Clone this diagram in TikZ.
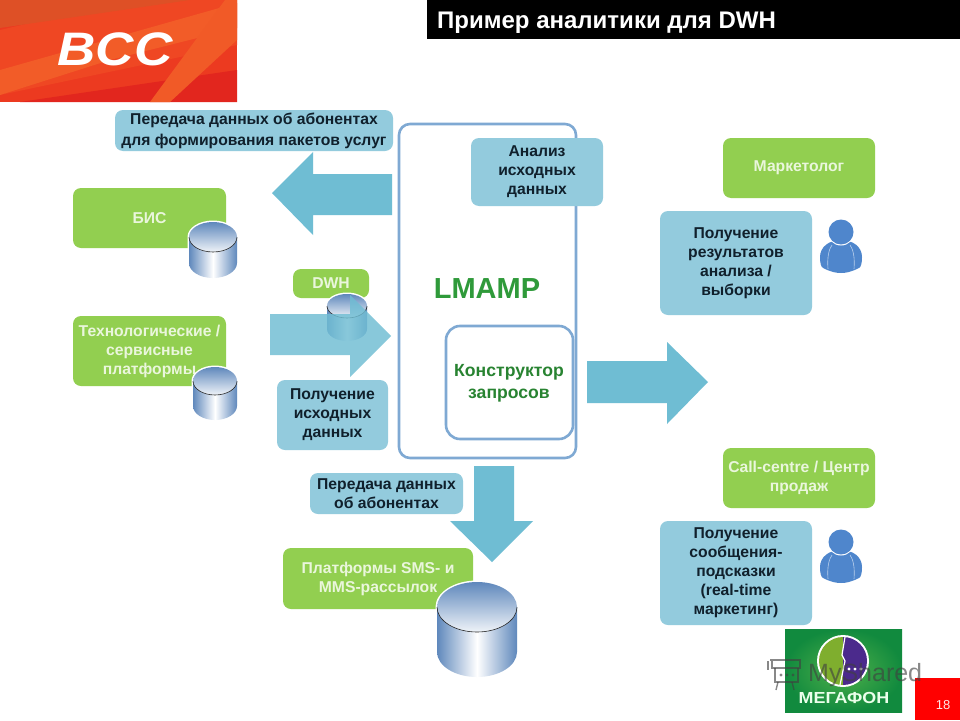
\documentclass[tikz,border=0pt]{standalone}
\usepackage{fontspec}
\setmainfont{Liberation Sans}
\definecolor{gbox}{HTML}{92CF50}
\definecolor{bbox}{HTML}{93CBDD}
\definecolor{arrowb}{HTML}{6FBDD3}
\definecolor{frameb}{HTML}{7FA9D3}
\definecolor{gtext}{HTML}{EAF6DC}
\definecolor{dtext}{HTML}{10202C}
\definecolor{cyld}{HTML}{5F88BC}
\definecolor{lmgreen}{HTML}{2F9A3A}
\definecolor{logoa}{HTML}{EC3A20}
\definecolor{logob}{HTML}{EF4723}
\definecolor{logoc}{HTML}{F25C28}
\definecolor{logod}{HTML}{DE5026}
\definecolor{logoe}{HTML}{E2261E}
\definecolor{logof}{HTML}{F15A27}
\definecolor{personb}{HTML}{4F86CC}
\definecolor{mfa}{HTML}{4FB04A}
\definecolor{mfb}{HTML}{118A3E}
\definecolor{mfc}{HTML}{7FAE2E}
\definecolor{mfd}{HTML}{4B2A8C}
\tikzset{
  x=1pt,y=-1pt,
  greenbox/.style={fill=gbox,rounded corners=8pt,inner sep=0pt,align=center,text=gtext,font=\fontsize{15.7}{19}\selectfont\bfseries},
  bluebox/.style={fill=bbox,rounded corners=8pt,inner sep=0pt,align=center,text=dtext,font=\fontsize{15.7}{19}\selectfont\bfseries},
  blockarrow/.style={fill=arrowb},
  frameline/.style={draw=frameb,line width=2.6pt,fill=white},
  cylside/.style={left color=cyld,right color=cyld,middle color=white},
  cyltop/.style={top color=cyld,bottom color=white!90!cyld},
}
% name cx top bottom rx ry
\newcommand{\cylinder}[6]{%
  \fill[white] (#2-#5-1.5,#3+#6) arc[start angle=180,end angle=360,x radius=#5+1.5,y radius=#6+1.5] -- (#2+#5+1.5,#4-#6) arc[start angle=0,end angle=180,x radius=#5+1.5,y radius=#6+1.5] -- cycle;
  \path[cylside] (#2-#5,#3+#6) -- (#2-#5,#4-#6) arc[start angle=180,end angle=0,x radius=#5,y radius=#6] -- (#2+#5,#3+#6) -- cycle;
  \path[cyltop] (#2,#3+#6) ellipse[x radius=#5,y radius=#6];
  \draw[black!85,line width=0.6pt] (#2-#5,#3+#6) arc[start angle=180,end angle=0,x radius=#5,y radius=#6];
  \coordinate (#1) at (#2,#3);
}
\newcommand{\boxnode}[7]{%
  \node[#6,minimum width=#4-#2,minimum height=#5-#3] (#1) at ({(#2+#4)/2},{(#3+#5)/2}) {#7};
}
\newcommand{\person}[3]{%
  \fill[#1] (#2-21,#3+12) .. controls (#2-21,#3+2) and (#2-12,#3-5) .. (#2,#3-5) .. controls (#2+12,#3-5) and (#2+21,#3+2) .. (#2+21,#3+12) .. controls (#2+21,#3+18) and (#2+20,#3+22) .. (#2+18,#3+23) .. controls (#2+10,#3+27) and (#2+5,#3+28) .. (#2,#3+28) .. controls (#2-5,#3+28) and (#2-10,#3+27) .. (#2-18,#3+23) .. controls (#2-20,#3+22) and (#2-21,#3+18) .. (#2-21,#3+12) -- cycle;
  \draw[white!60!#1,line width=.6pt] (#2-13,#3+24) .. controls (#2-14,#3+12) and (#2-12,#3+4) .. (#2-9,#3)
    (#2+13,#3+24) .. controls (#2+14,#3+12) and (#2+12,#3+4) .. (#2+9,#3);
  \fill[white] (#2,#3-13) circle[radius=13.5];
  \fill[#1] (#2,#3-13) circle[radius=12.5];
}
\begin{document}
\begin{tikzpicture}
\useasboundingbox (0,0) rectangle (960,720);
\fill[white] (0,0) rectangle (960,720);

% BCC logo
\fill[logoa] (0,0) rectangle (237,102);
\fill[logob] (0,30) -- (130,0) -- (237,0) -- (237,45) -- (0,95) -- cycle;
\fill[logoc] (0,70) -- (237,3) -- (237,28) -- (110,60) -- (0,95) -- cycle;
\fill[logod] (0,0) -- (190,0) -- (0,28) -- cycle;
\fill[logoe] (20,102) -- (237,70) -- (237,102) -- cycle;
\fill[logof] (237,0) -- (225,0) -- (150,102) -- (170,102) -- (237,40) -- cycle;
\node[inner sep=0pt,text=white,font=\fontsize{47}{47}\selectfont\bfseries\itshape,xscale=1.13] (bcc) at (115,49) {BCC};

% title
\node[fill=black,minimum width=533,minimum height=39,inner sep=0pt] (titlebar) at (693.5,19.5) {};
\node[anchor=west,inner sep=0pt,text=white,font=\fontsize{24}{26}\selectfont\bfseries] (title) at (437,23) {Пример аналитики для DWH};

% main frame
\draw[frameline,rounded corners=11pt] (399,124) rectangle (576,458);
\node[text=lmgreen,font=\fontsize{29}{32}\selectfont\bfseries,inner sep=0pt] (lmamp) at (487,289) {LMAMP};
\draw[frameline,rounded corners=14pt] (446,326) rectangle (573,439);
\node[text=lmgreen!85!black,align=center,inner sep=0pt,font=\fontsize{17.6}{21}\selectfont\bfseries] (konstr) at (509,383) {Конструктор\\[1pt]запросов};

% left-top
\boxnode{peredacha}{115}{110}{393}{151}{bluebox}{Передача данных об абонентах\\[2pt]для формирования пакетов услуг}
\fill[blockarrow] (392,174) -- (313,174) -- (313,152) -- (272,193) -- (313,235) -- (313,215) -- (392,215) -- cycle;
\boxnode{analiz}{471}{138}{603}{206}{bluebox}{Анализ\\исходных\\данных}

% BIS
\boxnode{bis}{73}{188}{226}{248}{greenbox}{БИС}
\cylinder{bisdb}{213}{222}{278}{24}{15}

% DWH
\boxnode{dwh}{293}{269}{369}{298}{greenbox}{DWH}
\cylinder{dwhdb}{347}{294}{341}{20}{12}
\fill[blockarrow,opacity=.82] (270,314) -- (350,314) -- (350,295) -- (391,336) -- (350,377) -- (350,355) -- (270,355) -- cycle;

% tech
\boxnode{tech}{73}{316}{226}{386}{greenbox}{Технологические /\\сервисные\\платформы}
\cylinder{techdb}{215}{367}{420}{22}{14}
\boxnode{ish}{277}{380}{388}{450}{bluebox}{Получение\\исходных\\данных}

% right arrow
\fill[blockarrow] (587,361) -- (667,361) -- (667,342) -- (708,382) -- (667,424) -- (667,403) -- (587,403) -- cycle;

% right column
\boxnode{market}{723}{138}{875}{198}{greenbox}{Маркетолог}
\boxnode{result}{660}{211}{812}{315}{bluebox}{Получение\\результатов\\анализа /\\выборки}
\person{personb}{841}{245}
\boxnode{call}{723}{448}{875}{508}{greenbox}{Call-centre / Центр\\продаж}
\boxnode{hint}{660}{521}{812}{625}{bluebox}{Получение\\сообщения-\\подсказки\\(real-time\\маркетинг)}
\person{personb}{841}{555}

% bottom
\boxnode{perab}{310}{473}{463}{514}{bluebox}{Передача данных\\об абонентах}
\fill[blockarrow] (474,466) -- (514,466) -- (514,521) -- (533,521) -- (492,562) -- (450,521) -- (474,521) -- cycle;
\boxnode{sms}{283}{548}{473}{609}{greenbox}{Платформы SMS- и\\MMS-рассылок}
\cylinder{smsdb}{477}{582}{677}{40}{25}

% MegaFon
\shade[inner color=mfa,outer color=mfb] (785,629) rectangle (902,712);
\fill[white] (843,661) circle[radius=26];
\fill[mfc] (843,637) arc[start angle=-90,end angle=-270,radius=24] -- cycle;
\fill[mfd] (843,637) arc[start angle=-90,end angle=90,radius=24] -- cycle;
\draw[white,line width=1.2pt] (845,637) -- (842,655) -- (845,661) -- (840,685);
\foreach \dotx in {849,855,861} \fill[white] (\dotx,669) circle[radius=1.7];
\node[inner sep=0pt,text=white!92!green,font=\fontsize{16}{16}\selectfont\bfseries,xscale=1.12] (megafon) at (844,698) {МЕГАФОН};

% page number
\node[fill=red,minimum width=45,minimum height=42,inner sep=0pt] (pagebox) at (937.5,699) {};
\node[text=white!90!red,inner sep=0pt,font=\fontsize{13}{13}\selectfont] (pagenum) at (943,705) {18};

% watermark
\begin{scope}[opacity=.62,draw=black!75]
\draw[line width=2pt] (770,660) -- (801,660) (772,660) -- (772,668) -- (800,668) -- (800,660);
\draw[line width=1.6pt] (768,661) -- (768,670);
\draw[line width=1.6pt] (775,668) -- (775,682) -- (798,682) -- (798,668);
\draw[line width=1.4pt] (778,682) -- (776,690) (792,682) -- (794,690);
\foreach \dotx in {781,787,793} \fill[black!75] (\dotx,675) circle[radius=1.6];
\node[anchor=west,inner sep=0pt,text=black!75,font=\fontsize{25}{25}\selectfont] (wm) at (808,675) {MyShared};
\end{scope}
\end{tikzpicture}
\end{document}
